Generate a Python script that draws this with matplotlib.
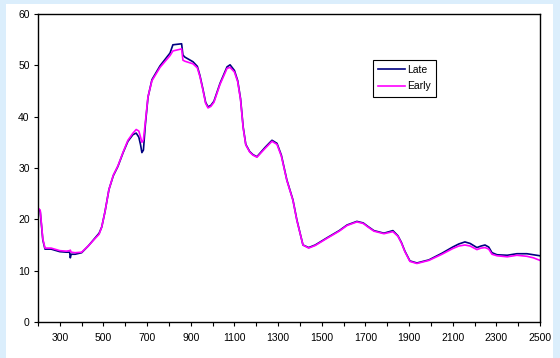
import matplotlib.pyplot as plt
import matplotlib.patches as patches
import numpy as np

plt.rcParams['font.family'] = ['Liberation Sans', 'DejaVu Sans']

# wavelength (nm)
wl = [200, 210, 222, 232, 260, 300, 330, 345, 348, 352, 370, 400, 430, 460, 480, 492,
      507, 525, 545, 566, 590, 612, 635, 650, 662, 670, 676, 683, 692, 704, 722, 759,
      805, 818, 858, 864, 873, 910, 930, 942, 955, 968, 979, 992, 1006, 1034, 1066, 1080,
      1100, 1115, 1128, 1140, 1152, 1170, 1185, 1203, 1240, 1272, 1295, 1315, 1340, 1368,
      1386, 1414, 1440, 1470, 1524, 1580, 1616, 1661, 1690, 1712, 1739, 1785, 1826, 1849,
      1865, 1881, 1904, 1936, 1991, 2051, 2100, 2128, 2156, 2180, 2211, 2230, 2248, 2265,
      2280, 2303, 2350, 2394, 2440, 2470, 2500]

late = [22.0, 21.6, 16.0, 14.2, 14.2, 13.7, 13.6, 13.6, 12.5, 13.2, 13.2, 13.5, 14.8, 16.3,
        17.3, 18.5, 21.5, 25.8, 28.5, 30.3, 33.0, 35.2, 36.5, 36.8, 36.0, 34.5, 33.0, 33.5,
        38.5, 43.8, 47.2, 49.9, 52.4, 54.0, 54.2, 52.0, 51.6, 50.7, 49.8, 48.0, 45.5, 42.8,
        41.9, 42.2, 43.0, 46.5, 49.7, 50.1, 49.0, 47.0, 43.5, 38.0, 34.6, 33.2, 32.6, 32.2,
        34.0, 35.4, 34.8, 32.5, 27.7, 23.8, 19.9, 15.0, 14.5, 15.0, 16.4, 17.8, 18.9, 19.6,
        19.3, 18.6, 17.8, 17.3, 17.8, 16.8, 15.5, 13.8, 11.9, 11.5, 12.1, 13.4, 14.6, 15.2,
        15.6, 15.3, 14.5, 14.8, 15.0, 14.6, 13.5, 13.1, 13.0, 13.3, 13.3, 13.1, 12.9]

early = [22.2, 21.8, 16.2, 14.4, 14.4, 13.9, 13.8, 13.9, 14.0, 13.6, 13.5, 13.6, 14.8, 16.2,
         17.1, 18.5, 21.5, 25.8, 28.6, 30.4, 33.1, 35.4, 36.8, 37.5, 37.2, 36.0, 35.0, 35.5,
         39.0, 43.9, 47.0, 49.6, 51.9, 52.8, 53.2, 51.0, 50.8, 50.3, 49.5, 47.8, 45.3, 42.6,
         41.7, 42.0, 42.8, 46.3, 49.4, 49.6, 48.7, 46.8, 43.3, 37.8, 34.5, 33.1, 32.5, 32.1,
         33.8, 35.2, 34.6, 32.3, 27.6, 23.7, 19.8, 15.0, 14.4, 14.9, 16.3, 17.7, 18.8, 19.5,
         19.2, 18.5, 17.7, 17.2, 17.6, 16.7, 15.4, 13.7, 11.8, 11.4, 12.0, 13.2, 14.3, 14.8,
         15.0, 14.8, 14.1, 14.4, 14.5, 14.2, 13.2, 12.9, 12.7, 13.0, 12.8, 12.5, 12.0]

fig = plt.figure(figsize=(5.6, 3.58), dpi=100)
fig.patch.set_facecolor('#dbeefc')
# white chart area
fig.patches.append(patches.Rectangle((6/560, 0), 547/560, 354/358, transform=fig.transFigure,
                                     facecolor='white', edgecolor='none', zorder=-1))

ax = fig.add_axes([38/560, 36/358, 502/560, 308/358])
ax.plot(wl, late, color='#000080', linewidth=1.2, label='Late')
ax.plot(wl, early, color='#ff00ff', linewidth=1.2, label='Early')

ax.set_xlim(200, 2500)
ax.set_ylim(0, 60)
ax.set_xticks(np.arange(300, 2501, 200))
ax.set_xticks(np.arange(200, 2500, 200), minor=True)
ax.set_yticks(np.arange(0, 61, 10))
ax.tick_params(axis='both', which='both', direction='out', length=3, width=0.8, labelsize=7.5)
ax.tick_params(axis='x', pad=5)
ax.tick_params(axis='y', pad=3)
for s in ax.spines.values():
    s.set_linewidth(1.0)
    s.set_color('black')

leg = ax.legend(loc='upper left', bbox_to_anchor=(0.667, 0.851), fontsize=7.5,
                fancybox=False, edgecolor='black', framealpha=1, handlelength=2.6,
                handletextpad=0.2, borderpad=0.5, labelspacing=0.6, borderaxespad=0)
leg.get_frame().set_linewidth(0.8)

fig.savefig('out.png', dpi=100)
